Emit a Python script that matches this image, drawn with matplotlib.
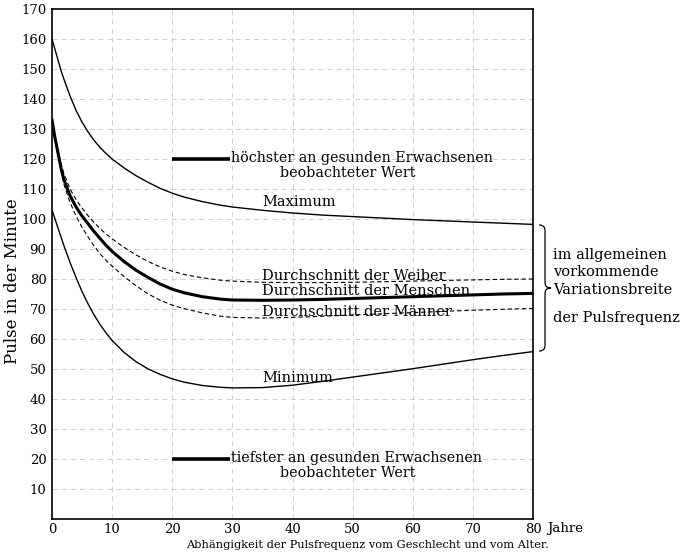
import numpy as np
import matplotlib.pyplot as plt
from matplotlib.path import Path
from matplotlib.patches import PathPatch

age = [0, 0.5, 1, 1.5, 2, 3, 4, 5, 6, 7, 8, 9, 10, 12, 14, 16, 18, 20, 22, 25,
       28, 30, 35, 40, 45, 50, 55, 60, 65, 70, 75, 80]

maximum = [160, 156.5, 153, 149.5, 146.5, 141, 136.2, 132.3, 129, 126.2, 123.8, 121.8,
           120, 117, 114.4, 112.2, 110.2, 108.6, 107.3, 105.8, 104.6, 104, 102.9, 102,
           101.3, 100.8, 100.3, 99.8, 99.4, 99, 98.6, 98.2]
weiber = [133, 127.5, 123, 118.5, 115, 110, 106.5, 103.6, 101.1, 98.8, 96.8, 95,
          93.4, 90.5, 88, 85.8, 84, 82.6, 81.5, 80.4, 79.6, 79.3, 78.9, 78.8,
          78.8, 78.9, 79.1, 79.3, 79.5, 79.7, 79.9, 80]
menschen = [133, 127, 122, 117, 113, 107.8, 104, 101, 98.4, 95.8, 93.5, 91.2,
            89.2, 85.8, 82.9, 80.5, 78.3, 76.6, 75.4, 74.1, 73.3, 73, 72.9, 73,
            73.2, 73.5, 73.8, 74.1, 74.4, 74.7, 75, 75.2]
maenner = [133, 126.5, 121, 116, 111.5, 105.5, 101, 97.2, 94, 91, 88.4, 86.2,
           84.3, 80.8, 77.7, 75, 72.9, 71.3, 70.1, 68.7, 67.6, 67.2, 67.0, 67.2,
           67.6, 68, 68.4, 68.8, 69.2, 69.6, 69.9, 70.2]
minimum = [103, 100, 97, 94, 91, 85.5, 80.5, 75.8, 71.7, 68, 64.8, 62,
           59.5, 55.5, 52.4, 50, 48.2, 46.7, 45.6, 44.5, 43.9, 43.7, 43.8, 44.6,
           45.9, 47.3, 48.7, 50.1, 51.6, 53.1, 54.5, 55.8]

x_ticks = [0, 10, 20, 30, 40, 50, 60, 70, 80]
y_ticks = list(range(10, 171, 10))

hoechster = 120
tiefster = 20

plt.rcParams['font.family'] = 'DejaVu Serif'

fig = plt.figure(figsize=(6.88, 5.56), dpi=100)
ax = fig.add_axes([52 / 688, 1 - 519 / 556, (533 - 52) / 688, (519 - 9) / 556])
ax.set_xlim(0, 80)
ax.set_ylim(0, 170)

# faint dashed grid
for gx in x_ticks[1:-1]:
    ax.axvline(gx, color='#c8c8c8', lw=0.6, ls=(0, (6, 5)), zorder=0)
for gy in y_ticks[:-1]:
    ax.axhline(gy, color='#c8c8c8', lw=0.6, ls=(0, (6, 5)), zorder=0)

# curves
ax.plot(age, maximum, color='black', lw=1.0)
ax.plot(age, minimum, color='black', lw=1.0)
ax.plot(age, menschen, color='black', lw=2.2)
ax.plot(age, weiber, color='black', lw=0.8, ls=(0, (4, 2.5)))
ax.plot(age, maenner, color='black', lw=0.8, ls=(0, (4, 2.5)))

# curve labels
fs = 10.5
ax.text(35, 103.2, 'Maximum', fontsize=fs, va='bottom')
ax.text(35, 78.6, 'Durchschnitt der Weiber', fontsize=fs, va='bottom')
ax.text(35, 73.6, 'Durchschnitt der Menschen', fontsize=fs, va='bottom')
ax.text(35, 66.8, 'Durchschnitt der Männer', fontsize=fs, va='bottom')
ax.text(35, 44.8, 'Minimum', fontsize=fs, va='bottom')

# highest / lowest observed values
for yv, word in [(hoechster, 'höchster'), (tiefster, 'tiefster')]:
    ax.plot([20, 29.6], [yv, yv], color='black', lw=2.6, solid_capstyle='butt')
    ax.text(29.7, yv + 0.3, word + ' an gesunden Erwachsenen', fontsize=10.3, va='center')
    ax.text(49.2, yv - 4.6, 'beobachteter Wert', fontsize=10.3, va='center', ha='center')

# brace on the right side
bx0, bx1, bx2 = 81.0, 82.0, 83.0
top, bot = 98.0, 56.0
mid = (top + bot) / 2
verts = [(bx0, top), (bx1, top), (bx1, top - 1.8),
         (bx1, mid + 1.8),
         (bx1, mid), (bx2, mid),
         (bx1, mid), (bx1, mid - 1.8),
         (bx1, bot + 1.8),
         (bx1, bot), (bx0, bot)]
codes = [Path.MOVETO, Path.CURVE3, Path.CURVE3,
         Path.LINETO,
         Path.CURVE3, Path.CURVE3,
         Path.CURVE3, Path.CURVE3,
         Path.LINETO,
         Path.CURVE3, Path.CURVE3]
ax.add_patch(PathPatch(Path(verts, codes), fill=False, lw=0.9, clip_on=False))

for yy, line in [(88.0, 'im allgemeinen'), (82.4, 'vorkommende'),
                 (76.3, 'Variationsbreite'), (67.0, 'der Pulsfrequenz')]:
    ax.text(83.4, yy, line, fontsize=fs, va='center', clip_on=False)

# axes styling
for s in ax.spines.values():
    s.set_linewidth(1.2)
ax.set_xticks(x_ticks)
ax.set_yticks(y_ticks)
ax.tick_params(length=0, labelsize=9.5)
ax.tick_params(axis='x', pad=3)
ax.tick_params(axis='y', pad=4)
ax.text(82.4, -1.1, 'Jahre', fontsize=9.5, va='top', clip_on=False)

fig.text(13 / 688, 1 - 281 / 556, 'Pulse in der Minute', rotation=90,
         fontsize=12, ha='center', va='center')
fig.text(368 / 688, 1 - 545 / 556,
         'Abhängigkeit der Pulsfrequenz vom Geschlecht und vom Alter.',
         fontsize=8.2, ha='center', va='center')

fig.savefig('out.png', dpi=100)
